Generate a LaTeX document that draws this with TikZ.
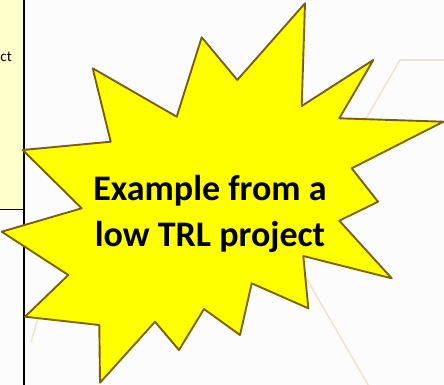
\documentclass[tikz,border=0pt]{standalone}
\usepackage{fontspec}
\setmainfont{Carlito}
\definecolor{panelyellow}{RGB}{255,255,204}
\definecolor{pagegray}{RGB}{252,252,252}
\definecolor{starfill}{RGB}{255,255,0}
\definecolor{starline}{RGB}{127,96,0}
\definecolor{hexline}{RGB}{240,224,198}
\tikzset{
  starshape/.style={fill=starfill, draw=starline, line width=1.9pt, line join=round},
  hexedge/.style={draw=hexline, line width=1.6pt, opacity=0.8},
  bursttext/.style={font=\fontsize{36}{46}\selectfont\bfseries, inner sep=0pt, anchor=base},
  frame/.style={draw=black, line width=1.8pt}
}
\begin{document}
\begin{tikzpicture}[x=1pt,y=-1pt]
\useasboundingbox (0,0) rectangle (444,385);
% page background and side panel
\fill[pagegray] (0,0) rectangle (444,385);
\fill[panelyellow] (0,0) rectangle (24,209.5);
\node[font=\fontsize{15}{18}\selectfont, inner sep=0pt, anchor=base west] (ct) at (0.3,62) {ct};
\draw[frame] (24,0) -- (24,385);
\draw[black, line width=1.4pt] (0,209.5) -- (24,209.5);
% faint hexagon outlines behind the burst
\draw[hexedge] (444,60) -- (400,60) -- (290,250) -- (400,440);
\draw[hexedge] (28,148) -- (82,210);
\draw[hexedge] (31,342) -- (40,312);
% the burst
\draw[starshape]
  (92.7,68.3) -- (176.7,116.7) -- (201.7,37.3) -- (237.3,80) -- (305,3.3)
  -- (301.7,106) -- (373.3,60) -- (339.3,118.3) -- (443.3,121.7)
  -- (351.7,168.3) -- (378,201.7) -- (339.3,220.7) -- (391.7,278.3)
  -- (303.3,256) -- (308.3,308.3) -- (251.7,283.3) -- (240,335)
  -- (204,309) -- (179,350) -- (155,321.7) -- (100,382.7) -- (99.3,325)
  -- (25,316.7) -- (68.3,275) -- (1.7,231.7) -- (81.7,208.3)
  -- (22.7,150) -- (110.7,141.7) -- cycle;
\node[bursttext] (line1) at (210,200) {Example from a};
\node[bursttext] (line2) at (210,246) {low TRL project};
\end{tikzpicture}
\end{document}
